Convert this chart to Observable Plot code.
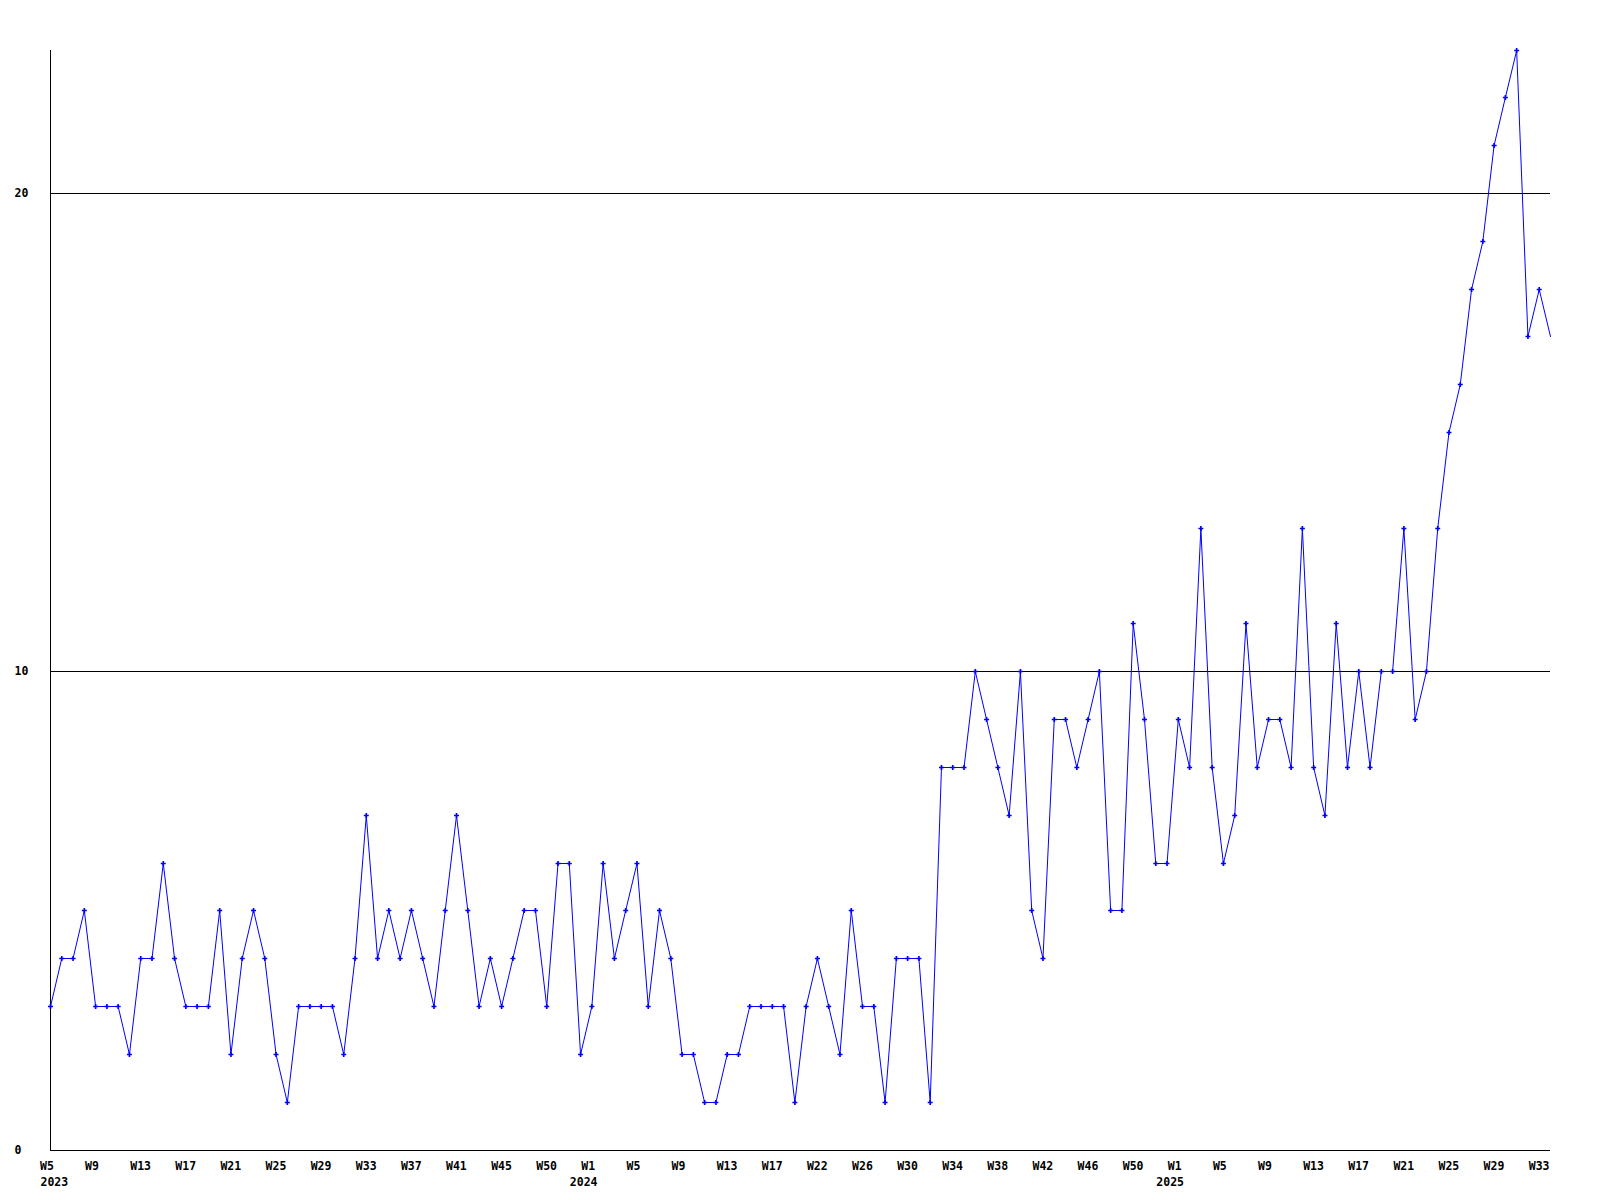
<!DOCTYPE html>
<html>
<head>
<meta charset="utf-8">
<script src="https://cdn.jsdelivr.net/npm/d3@7"></script>
<script src="https://cdn.jsdelivr.net/npm/@observablehq/plot@0.6"></script>
<style>
  html, body { margin: 0; padding: 0; background: #ffffff; }
  #chart svg { display: block; }
</style>
</head>
<body>
<div id="chart"></div>
<script>
// Weekly values, 2023 W5 .. 2025 W34 (one value per week)
const values2023 = [3,4,4,5,3,3,3,2,4,4,6,4,3,3,3,5,2,4,5,4,2,1,3,3,3,3,2,4,7,4,5,4,5,4,3,5,7,5,3,4,3,4,5,5,3,6,6,2];
const values2024 = [3,6,4,5,6,3,5,4,2,2,1,1,2,2,3,3,3,3,1,3,4,3,2,5,3,3,1,4,4,4,1,8,8,8,10,9,8,7,10,5,4,9,9,8,9,10,5,5,11,9,6,6];
const values2025 = [9,8,13,8,6,7,11,8,9,9,8,13,8,7,11,8,10,8,10,10,13,9,10,13,15,16,18,19,21,22,23,17,18,17];

// Axis tick labels (one every 4 weeks)
const weekTicks = ["W5","W9","W13","W17","W21","W25","W29","W33","W37","W41","W45","W50",
                   "W1","W5","W9","W13","W17","W22","W26","W30","W34","W38","W42","W46","W50",
                   "W1","W5","W9","W13","W17","W21","W25","W29","W33"];
const yearLabels = ["2023","2024","2025"];
const yearTickIndex = [0, 12, 25]; // index into weekTicks where each year starts
const yTicks = [0, 10, 20];

const values = [...values2023, ...values2024, ...values2025];
const data = values.map((v, i) => ({i, v}));
const tickPos = weekTicks.map((_, k) => k * 4);
const yearPos = yearTickIndex.map(k => k * 4);

const font = "'DejaVu Sans Mono', 'Liberation Mono', monospace";

const chart = Plot.plot({
  width: 1600,
  height: 1200,
  marginLeft: 50,
  marginRight: 50,
  marginTop: 50,
  marginBottom: 50,
  style: {background: "#ffffff", color: "#000000", fontFamily: font, fontSize: "11.5px", fontWeight: "bold"},
  x: {type: "linear", domain: [0, values.length - 1], axis: null, label: null},
  y: {type: "linear", domain: [0, 23], range: [1149.5, 49.5], round: true, axis: null, label: null},
  marks: [
    Plot.ruleY([10, 20], {stroke: "#000000", strokeWidth: 1}),
    Plot.ruleX([0], {stroke: "#000000", strokeWidth: 1}),
    Plot.ruleY([0], {stroke: "#000000", strokeWidth: 1}),
    Plot.line(data, {x: "i", y: "v", stroke: "#0000ff", strokeWidth: 1}),
    Plot.dot(data.slice(0, -1), {x: "i", y: "v", symbol: "cross", r: 2.1, fill: "#0000ff", stroke: null}),
    Plot.axisX(tickPos, {label: null, tickFormat: d => weekTicks[d / 4], tickSize: 0, tickPadding: 11, textAnchor: "start", dx: -10.5, fill: "#000000"}),
    Plot.axisX(yearPos.slice(0, 1), {label: null, tickFormat: d => yearLabels[0], tickSize: 0, tickPadding: 27, textAnchor: "start", dx: -10, fill: "#000000"}),
    Plot.axisX(yearPos.slice(1), {label: null, tickFormat: d => yearLabels[yearPos.indexOf(d)], tickSize: 0, tickPadding: 27, textAnchor: "start", dx: -22, fill: "#000000"}),
    Plot.axisY(yTicks, {label: null, tickSize: 0, textAnchor: "start", dx: -27, fill: "#000000"})
  ]
});
document.getElementById("chart").appendChild(chart);
</script>
</body>
</html>
